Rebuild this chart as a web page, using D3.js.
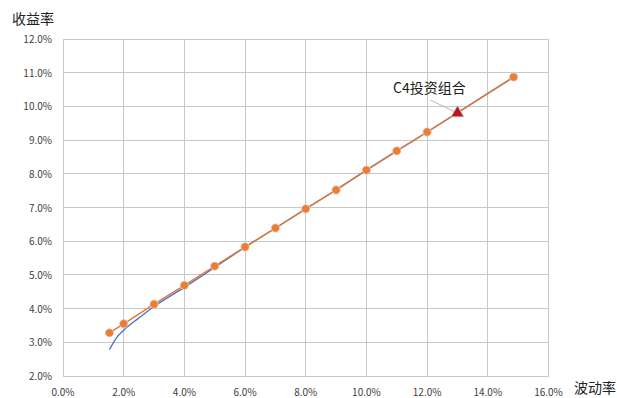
<!DOCTYPE html>
<html><head><meta charset="utf-8">
<script src="https://cdn.jsdelivr.net/npm/d3@7"></script>
<style>body{margin:0;background:#fff;} text{font-family:"Noto Sans CJK SC","Noto Sans",sans-serif;}</style>
</head><body>
<svg id="c" width="617" height="398"></svg>
<script>
const xTicks = [0,2,4,6,8,10,12,14,16];
const yTicks = [2,3,4,5,6,7,8,9,10,11,12];
const orangeX = [1.53,2.0,3.0,4.0,5.0,6.0,7.0,8.0,9.0,10.0,11.0,12.0,14.85];
const orangeY = [3.28,3.55,4.13,4.69,5.26,5.83,6.39,6.96,7.52,8.11,8.68,9.24,10.87];
const blueX = [1.53,1.75,2.0,2.5,3.0,4.0,5.0,6.0,7.0,8.0,9.0,10.0,11.0,12.0,14.85];
const blueY = [2.78,3.12,3.36,3.72,4.06,4.63,5.22,5.82,6.39,6.96,7.52,8.11,8.68,9.24,10.87];
const portfolio = {name:"C4投资组合", x:13.0, y:9.80};

const svg = d3.select("#c");
const x = d3.scaleLinear().domain([0,16]).range([63,548.5]);
const y = d3.scaleLinear().domain([2,12]).range([376,39]);

// grid
svg.append("g").selectAll("line").data(yTicks).join("line")
  .attr("x1",x(0)).attr("x2",x(16)).attr("y1",d=>y(d)).attr("y2",d=>y(d))
  .attr("stroke","#c8c8c8").attr("stroke-width",1).attr("shape-rendering","crispEdges");
svg.append("g").selectAll("line").data(xTicks).join("line")
  .attr("y1",y(2)).attr("y2",y(12)).attr("x1",d=>x(d)).attr("x2",d=>x(d))
  .attr("stroke","#c8c8c8").attr("stroke-width",1).attr("shape-rendering","crispEdges");

// axis labels
svg.append("g").selectAll("text").data(yTicks).join("text")
  .attr("x",52).attr("y",d=>y(d)+4).attr("text-anchor","end")
  .attr("font-size",10).attr("fill","#404040").text(d=>d.toFixed(1)+"%");
svg.append("g").selectAll("text").data(xTicks).join("text")
  .attr("x",d=>x(d)).attr("y",396).attr("text-anchor","middle")
  .attr("font-size",10).attr("fill","#404040").text(d=>d.toFixed(1)+"%");
svg.append("text").attr("x",12).attr("y",24).attr("font-size",14).attr("fill","#222").text("收益率");
svg.append("text").attr("x",574).attr("y",393).attr("font-size",14).attr("fill","#222").text("波动率");

// blue line
const blue = blueX.map((v,i)=>[v,blueY[i]]);
svg.append("path").datum(blue)
  .attr("d",d3.line().x(d=>x(d[0])).y(d=>y(d[1])).curve(d3.curveMonotoneX))
  .attr("fill","none").attr("stroke","#4472C4").attr("stroke-width",1.3);

// orange line
const orange = orangeX.map((v,i)=>[v,orangeY[i]]);
svg.append("path").datum(orange)
  .attr("d",d3.line().x(d=>x(d[0])).y(d=>y(d[1])))
  .attr("fill","none").attr("stroke","#E0783A").attr("stroke-width",1.5);
svg.append("g").selectAll("circle").data(orange).join("circle")
  .attr("cx",d=>x(d[0])).attr("cy",d=>y(d[1])).attr("r",4.2)
  .attr("fill","#ED7D31").attr("stroke","#d9d9d9").attr("stroke-width",0.8);

// portfolio
const px = x(portfolio.x), py = y(portfolio.y);
svg.append("line").attr("x1",px-27).attr("y1",py-13).attr("x2",px-2).attr("y2",py-1)
  .attr("stroke","#a6a6a6").attr("stroke-width",0.8);
svg.append("path").attr("d",d3.symbol().type(d3.symbolTriangle).size(70)())
  .attr("transform",`translate(${px},${py})`)
  .attr("fill","#C0141C").attr("stroke","#bfbfbf").attr("stroke-width",0.8);
svg.append("text").attr("x",px-28).attr("y",py-20).attr("text-anchor","middle")
  .attr("font-size",14).attr("fill","#222").text(portfolio.name);
</script>
</body></html>
